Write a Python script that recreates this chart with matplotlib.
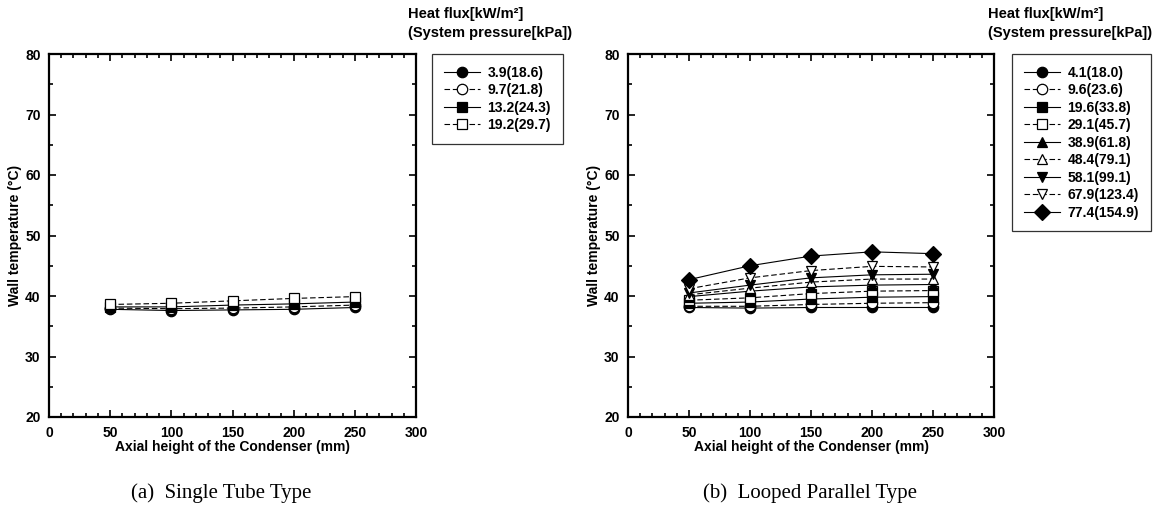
import matplotlib
matplotlib.use("Agg")
import matplotlib.pyplot as plt
from matplotlib.ticker import MultipleLocator

plt.rcParams['font.family'] = ['Liberation Sans', 'DejaVu Sans']
plt.rcParams['font.weight'] = 'bold'

# ---------------- data ----------------
x_pos = [50, 100, 150, 200, 250]

labels_a = ['3.9(18.6)', '9.7(21.8)', '13.2(24.3)', '19.2(29.7)']
vals_a_1 = [37.8, 37.6, 37.7, 37.8, 38.1]
vals_a_2 = [38.0, 37.9, 38.0, 38.2, 38.5]
vals_a_3 = [38.2, 38.2, 38.5, 38.7, 39.0]
vals_a_4 = [38.6, 38.8, 39.2, 39.6, 39.9]
series_a = [vals_a_1, vals_a_2, vals_a_3, vals_a_4]

labels_b = ['4.1(18.0)', '9.6(23.6)', '19.6(33.8)', '29.1(45.7)', '38.9(61.8)',
            '48.4(79.1)', '58.1(99.1)', '67.9(123.4)', '77.4(154.9)']
vals_b_1 = [38.1, 38.0, 38.1, 38.1, 38.1]
vals_b_2 = [38.3, 38.3, 38.6, 38.8, 38.9]
vals_b_3 = [38.8, 39.0, 39.5, 39.8, 39.9]
vals_b_4 = [39.3, 39.7, 40.4, 40.8, 40.9]
vals_b_5 = [39.9, 40.8, 41.5, 41.8, 41.9]
vals_b_6 = [40.2, 41.3, 42.3, 42.8, 42.8]
vals_b_7 = [40.5, 41.8, 43.0, 43.5, 43.6]
vals_b_8 = [41.2, 43.0, 44.2, 44.9, 44.8]
vals_b_9 = [42.7, 45.0, 46.6, 47.3, 47.0]
series_b = [vals_b_1, vals_b_2, vals_b_3, vals_b_4, vals_b_5,
            vals_b_6, vals_b_7, vals_b_8, vals_b_9]

x_ticks = [0, 50, 100, 150, 200, 250, 300]
y_ticks = [20, 30, 40, 50, 60, 70, 80]

# ---------------- styles ----------------
styles = [('o', 'k', '-'), ('o', 'w', '--'), ('s', 'k', '-'), ('s', 'w', '--'),
          ('^', 'k', '-'), ('^', 'w', '--'), ('v', 'k', '-'), ('v', 'w', '--'),
          ('D', 'k', '-')]

W, H = 1164, 517
fig = plt.figure(figsize=(W / 100, H / 100), dpi=100)


def make_axes(left_px, right_px):
    top_px, bot_px = 54, 417
    return fig.add_axes([left_px / W, 1 - bot_px / H,
                         (right_px - left_px) / W, (bot_px - top_px) / H])


def style_axes(ax):
    ax.set_xlim(0, 300)
    ax.set_ylim(20, 80)
    ax.set_xticks(x_ticks)
    ax.set_yticks(y_ticks)
    ax.xaxis.set_minor_locator(MultipleLocator(10))
    ax.yaxis.set_minor_locator(MultipleLocator(5))
    ax.tick_params(which='both', direction='in', top=True, right=True,
                   labelsize=10, width=1.2)
    ax.tick_params(axis='x', which='major', pad=6.5)
    ax.tick_params(axis='y', which='major', pad=6)
    ax.tick_params(which='major', length=5)
    ax.tick_params(which='minor', length=3)
    for sp in ax.spines.values():
        sp.set_linewidth(1.6)
    ax.set_xlabel('Axial height of the Condenser (mm)', fontsize=10,
                  fontweight='bold', labelpad=0)
    ax.set_ylabel('Wall temperature (°C)', fontsize=10, fontweight='bold',
                  labelpad=2)


def plot_series(ax, series, labels):
    handles = []
    for vals, lab, (m, fc, ls) in zip(series, labels, styles):
        ms = 8.5 if m == 'D' else 7.5
        h, = ax.plot(x_pos, vals, linestyle=ls, color='k', linewidth=0.8,
                     marker=m, markersize=ms, markerfacecolor=fc,
                     markeredgecolor='k', markeredgewidth=0.9,
                     dashes=(5, 2.5) if ls == '--' else (None, None),
                     label=lab)
        handles.append(h)
    return handles


def add_legend(handles, labels, left_px, top_px, title_x_px):
    leg = fig.legend(handles, labels, loc='upper left',
                     bbox_to_anchor=(left_px / W, 1 - top_px / H),
                     bbox_transform=fig.transFigure, borderaxespad=0,
                     fancybox=False, frameon=True, edgecolor='k',
                     fontsize=10, handlelength=2.6, handletextpad=0.55,
                     labelspacing=0.25, borderpad=0.85)
    leg.get_frame().set_linewidth(0.9)
    for t in leg.get_texts():
        t.set_fontweight('bold')
    fig.text(title_x_px / W, 1 - 14 / H, 'Heat flux[kW/m²]', fontsize=10.5,
             fontweight='bold', va='center', ha='left')
    fig.text(title_x_px / W, 1 - 33 / H, '(System pressure[kPa])', fontsize=10.5,
             fontweight='bold', va='center', ha='left')


ax_a = make_axes(49, 416)
style_axes(ax_a)
h_a = plot_series(ax_a, series_a, labels_a)
add_legend(h_a, labels_a, 432, 54, 408)

ax_b = make_axes(628, 994)
style_axes(ax_b)
h_b = plot_series(ax_b, series_b, labels_b)
add_legend(h_b, labels_b, 1012, 54, 988)

fig.text(221 / W, 1 - 493 / H, '(a)  Single Tube Type', fontsize=15,
         family=['Liberation Serif', 'DejaVu Serif'], fontweight='normal',
         ha='center', va='center')
fig.text(810 / W, 1 - 493 / H, '(b)  Looped Parallel Type', fontsize=15,
         family=['Liberation Serif', 'DejaVu Serif'], fontweight='normal',
         ha='center', va='center')

fig.savefig('out.png', dpi=100)
